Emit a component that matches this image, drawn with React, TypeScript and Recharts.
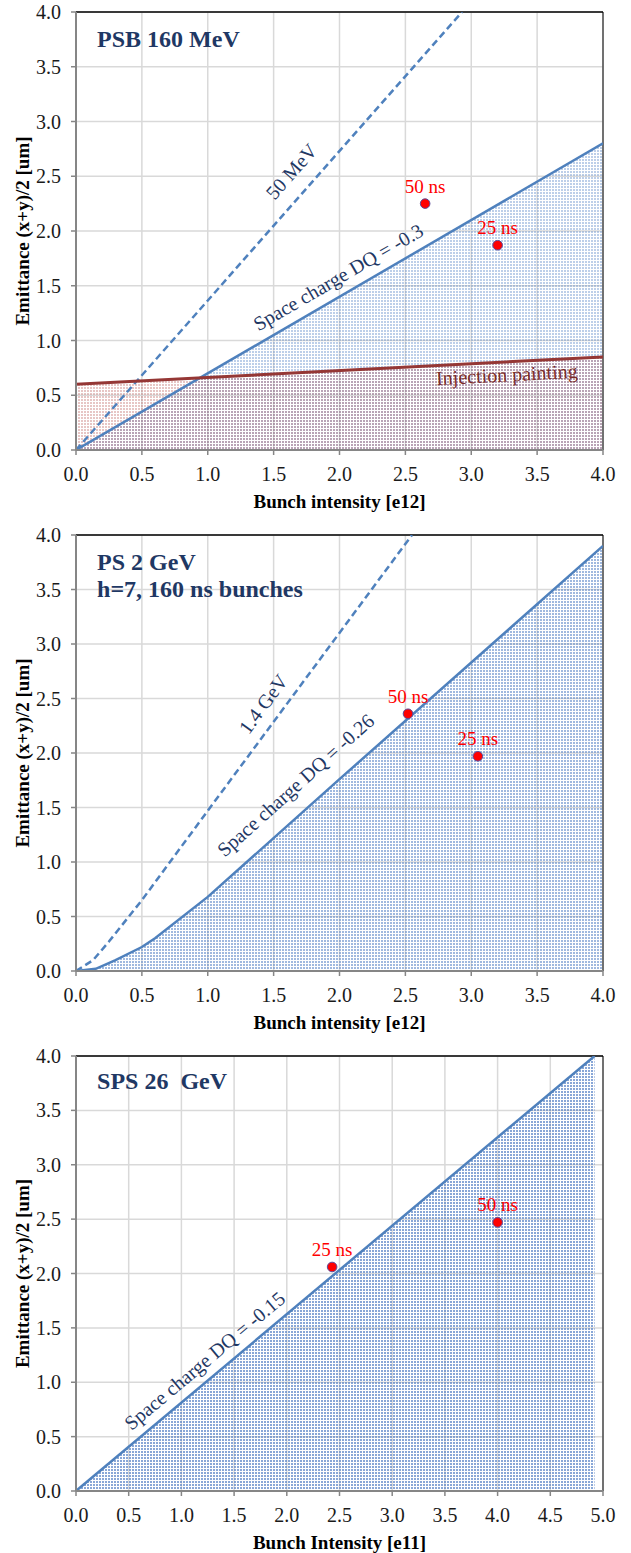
import React from "react";
import {
  ComposedChart,
  Line,
  Area,
  Scatter,
  XAxis,
  YAxis,
  CartesianGrid,
  ReferenceLine,
  ReferenceDot,
} from "recharts";

const SERIF = '"Liberation Serif", "Times New Roman", serif';
const NAVY = "#1F3864";
const BLUE = "#4F81BD";
const BROWN = "#953735";
const AXIS_GREY = "#868686";

// PSB 160 MeV
const PSB_SPACE_CHARGE = [
  { x: 0, y: 0 },
  { x: 4, y: 2.8 },
];
const PSB_50MEV = [
  { x: 0, y: 0 },
  { x: 2.93, y: 4.0 },
];
const PSB_PAINTING = [
  { x: 0, y: 0.6 },
  { x: 4, y: 0.85 },
];
const PSB_BEAMS = [
  { x: 2.65, y: 2.25, name: "50 ns" },
  { x: 3.2, y: 1.87, name: "25 ns" },
];

// PS 2 GeV
const PS_SPACE_CHARGE = [
  { x: 0, y: 0 },
  { x: 0.15, y: 0.02 },
  { x: 0.3, y: 0.1 },
  { x: 0.5, y: 0.22 },
  { x: 0.6, y: 0.3 },
  { x: 1.0, y: 0.68 },
  { x: 2.0, y: 1.76 },
  { x: 4.0, y: 3.9 },
];
const PS_14GEV = [
  { x: 0, y: 0 },
  { x: 0.13, y: 0.1 },
  { x: 0.25, y: 0.27 },
  { x: 0.5, y: 0.65 },
  { x: 1.0, y: 1.47 },
  { x: 2.55, y: 4.0 },
];
const PS_BEAMS = [
  { x: 2.52, y: 2.36, name: "50 ns" },
  { x: 3.05, y: 1.97, name: "25 ns" },
];

// SPS 26 GeV
const SPS_SPACE_CHARGE = [
  { x: 0, y: 0 },
  { x: 4.92, y: 4.0 },
];
const SPS_BEAMS = [
  { x: 2.43, y: 2.06, name: "25 ns" },
  { x: 4.0, y: 2.47, name: "50 ns" },
];

const Y_TICKS = [0, 0.5, 1.0, 1.5, 2.0, 2.5, 3.0, 3.5, 4.0];
const X_TICKS_E12 = [0, 0.5, 1.0, 1.5, 2.0, 2.5, 3.0, 3.5, 4.0];
const X_TICKS_E11 = [0, 0.5, 1.0, 1.5, 2.0, 2.5, 3.0, 3.5, 4.0, 4.5, 5.0];

const minorTicks = (max: number) =>
  Array.from({ length: Math.round(max * 10) + 1 }, (_, i) => i / 10);

const fmt = (v: number) => v.toFixed(1);

const BeamDot = (p: any) => (
  <circle cx={p.cx} cy={p.cy} r={4.8} fill="#FF0000" stroke="#5B4B9B" strokeWidth={1} />
);

const BeamTag = (p: any) => (
  <text
    x={p.cx}
    y={p.cy - 11}
    textAnchor="middle"
    fontFamily={SERIF}
    fontSize={19}
    fill="#FF0000"
  >
    {p.payload.name}
  </text>
);

// free text pinned to a data point
const note = (
  x: number,
  y: number,
  text: string,
  opts: { angle?: number; color?: string; size?: number; bold?: boolean; anchor?: string; central?: boolean }
) => (
  <ReferenceDot
    x={x}
    y={y}
    r={0}
    fill="none"
    stroke="none"
    ifOverflow="visible"
    label={(p: any) => {
      const vx = p.viewBox.x;
      const vy = p.viewBox.y;
      return (
        <text
          x={vx}
          y={vy}
          transform={`rotate(${opts.angle || 0} ${vx} ${vy})`}
          textAnchor={opts.anchor || "middle"}
          dominantBaseline={opts.central === false ? "alphabetic" : "central"}
          fontFamily={SERIF}
          fontSize={opts.size || 20}
          fontWeight={opts.bold ? "bold" : "normal"}
          fill={opts.color || NAVY}
        >
          {text}
        </text>
      );
    }}
  />
);

const title = (x: number, y: number, text: string) =>
  note(x, y, text, { anchor: "start", size: 24, bold: true, central: false });

const Pattern = ({ id, color, opacity }: { id: string; color: string; opacity: number }) => (
  <pattern id={id} width={3} height={3} patternUnits="userSpaceOnUse">
    <rect x={0} y={0} width={2} height={2} fill={color} fillOpacity={opacity} />
  </pattern>
);

interface PanelProps {
  height: number;
  top: number;
  bottom: number;
  xMax: number;
  xTicks: number[];
  xLabel: string;
  children: React.ReactNode;
}

const Panel = ({ height, top, bottom, xMax, xTicks, xLabel, children }: PanelProps) => (
  <ComposedChart
    width={631}
    height={height}
    margin={{ top, right: 28, bottom, left: 0 }}
  >
    <defs>
      <Pattern id="blueLight" color="#5b86c8" opacity={0.4} />
      <Pattern id="blueMid" color="#5b86c8" opacity={0.58} />
      <Pattern id="blueDark" color="#5b86c8" opacity={0.72} />
      <Pattern id="brown" color="#b0413e" opacity={0.3} />
    </defs>
    <CartesianGrid stroke="#d9d9d9" strokeWidth={1.5} />
    <XAxis
      type="number"
      dataKey="x"
      domain={[0, xMax]}
      ticks={xTicks}
      interval={0}
      tickFormatter={fmt}
      allowDataOverflow
      height={60}
      tickSize={5}
      tickMargin={12}
      axisLine={{ stroke: AXIS_GREY, strokeWidth: 2 }}
      tickLine={{ stroke: AXIS_GREY, strokeWidth: 1.5 }}
      tick={{ fontFamily: SERIF, fontSize: 20, fill: "#1a1a1a" }}
      label={{
        content: (p: any) => (
          <text
            x={p.viewBox.x + p.viewBox.width / 2}
            y={p.viewBox.y + 58}
            textAnchor="middle"
            fontFamily={SERIF}
            fontSize={19}
            fontWeight="bold"
            fill="#000"
          >
            {xLabel}
          </text>
        ),
      }}
    />
    <XAxis
      xAxisId="minor"
      type="number"
      domain={[0, xMax]}
      ticks={minorTicks(xMax)}
      interval={0}
      mirror
      tick={false}
      tickSize={3}
      axisLine={false}
      tickLine={{ stroke: AXIS_GREY }}
    />
    <YAxis
      type="number"
      domain={[0, 4]}
      ticks={Y_TICKS}
      interval={0}
      tickFormatter={fmt}
      allowDataOverflow
      width={76}
      tickSize={5}
      tickMargin={10}
      axisLine={{ stroke: AXIS_GREY, strokeWidth: 2 }}
      tickLine={{ stroke: AXIS_GREY, strokeWidth: 1.5 }}
      tick={{ fontFamily: SERIF, fontSize: 20, fill: "#1a1a1a" }}
      label={{
        content: (p: any) => {
          const cx = p.viewBox.x + 22;
          const cy = p.viewBox.y + p.viewBox.height / 2;
          return (
            <text
              x={cx}
              y={cy}
              transform={`rotate(-90 ${cx} ${cy})`}
              textAnchor="middle"
              dominantBaseline="central"
              fontFamily={SERIF}
              fontSize={19}
              fontWeight="bold"
              fill="#000"
            >
              Emittance (x+y)/2 [um]
            </text>
          );
        },
      }}
    />
    <YAxis
      yAxisId="minor"
      type="number"
      domain={[0, 4]}
      ticks={minorTicks(4)}
      interval={0}
      mirror
      tick={false}
      tickSize={4}
      axisLine={false}
      tickLine={{ stroke: AXIS_GREY }}
    />
    <ReferenceLine y={4} stroke="#000" strokeWidth={1.5} />
    <ReferenceLine x={xMax} stroke="#000" strokeWidth={1} />
    {children}
  </ComposedChart>
);

export default function App() {
  return (
    <div style={{ position: "absolute", left: 0, top: 0, width: 631, background: "#fff" }}>
      <Panel height={520} top={12} bottom={10} xMax={4} xTicks={X_TICKS_E12} xLabel="Bunch intensity [e12]">
        <Scatter data={PSB_BEAMS} dataKey="y" shape={BeamDot} isAnimationActive={false} />
        <Area data={PSB_SPACE_CHARGE} dataKey="y" type="linear" fill="url(#blueLight)" fillOpacity={1} stroke="none" isAnimationActive={false} />
        <Area data={PSB_PAINTING} dataKey="y" type="linear" fill="url(#brown)" fillOpacity={1} stroke="none" isAnimationActive={false} />
        <Line data={PSB_50MEV} dataKey="y" type="linear" stroke={BLUE} strokeWidth={2.5} strokeDasharray="7 4" dot={false} isAnimationActive={false} />
        <Line data={PSB_SPACE_CHARGE} dataKey="y" type="linear" stroke={BLUE} strokeWidth={2.5} dot={false} isAnimationActive={false} />
        <Line data={PSB_PAINTING} dataKey="y" type="linear" stroke={BROWN} strokeWidth={3} dot={false} isAnimationActive={false} />
        <Scatter data={PSB_BEAMS} dataKey="y" shape={BeamTag} isAnimationActive={false} />
        {title(0.16, 3.68, "PSB 160 MeV")}
        {note(1.634, 2.545, "50 MeV", { angle: -48.6 })}
        {note(1.99, 1.58, "Space charge DQ = -0.3", { angle: -30.2 })}
        {note(3.27, 0.69, "Injection painting", { angle: -3, color: "#7b2c2a" })}
      </Panel>
      <Panel height={520} top={15} bottom={9} xMax={4} xTicks={X_TICKS_E12} xLabel="Bunch intensity [e12]">
        <Scatter data={PS_BEAMS} dataKey="y" shape={BeamDot} isAnimationActive={false} />
        <Area data={PS_SPACE_CHARGE} dataKey="y" type="linear" fill="url(#blueMid)" fillOpacity={1} stroke="none" isAnimationActive={false} />
        <Line data={PS_14GEV} dataKey="y" type="linear" stroke={BLUE} strokeWidth={2.5} strokeDasharray="7 4" dot={false} isAnimationActive={false} />
        <Line data={PS_SPACE_CHARGE} dataKey="y" type="linear" stroke={BLUE} strokeWidth={2.5} dot={false} isAnimationActive={false} />
        <Scatter data={PS_BEAMS} dataKey="y" shape={BeamTag} isAnimationActive={false} />
        {title(0.16, 3.68, "PS 2 GeV")}
        {title(0.16, 3.434, "h=7, 160 ns bunches")}
        {note(1.42, 2.45, "1.4 GeV", { angle: -53.8 })}
        {note(1.666, 1.706, "Space charge DQ = -0.26", { angle: -41.8 })}
      </Panel>
      <Panel height={513} top={16} bottom={2} xMax={5} xTicks={X_TICKS_E11} xLabel="Bunch Intensity [e11]">
        <Scatter data={SPS_BEAMS} dataKey="y" shape={BeamDot} isAnimationActive={false} />
        <Area data={SPS_SPACE_CHARGE} dataKey="y" type="linear" fill="url(#blueDark)" fillOpacity={1} stroke="none" isAnimationActive={false} />
        <Line data={SPS_SPACE_CHARGE} dataKey="y" type="linear" stroke={BLUE} strokeWidth={2.5} dot={false} isAnimationActive={false} />
        <Scatter data={SPS_BEAMS} dataKey="y" shape={BeamTag} isAnimationActive={false} />
        {title(0.2, 3.697, "SPS 26\u00a0\u00a0GeV")}
        {note(1.22, 1.2, "Space charge DQ = -0.15", { angle: -40 })}
      </Panel>
    </div>
  );
}
